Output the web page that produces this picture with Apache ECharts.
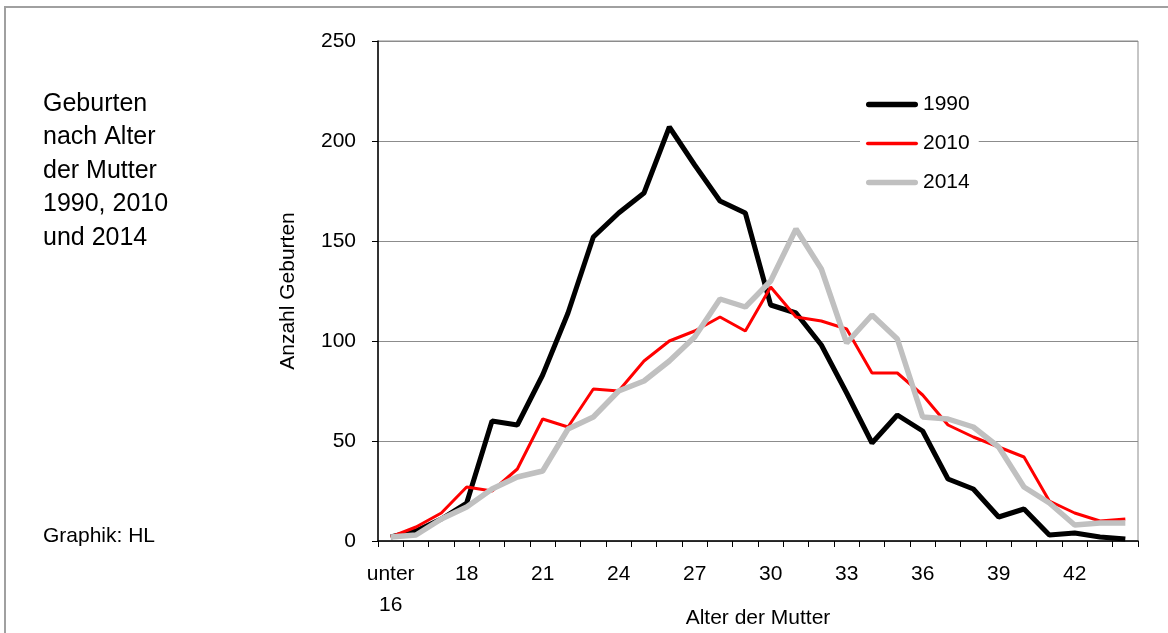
<!DOCTYPE html>
<html>
<head>
<meta charset="utf-8">
<script src="https://cdn.jsdelivr.net/npm/echarts@6/dist/echarts.min.js"></script>
<style>
html,body{margin:0;padding:0;background:#fff;}
#chart{width:1168px;height:633px;}
</style>
</head>
<body>
<div id="chart"></div>
<script>
const categories = ['unter 16','16','17','18','19','20','21','22','23','24','25','26','27','28','29','30','31','32','33','34','35','36','37','38','39','40','41','42','43','44'];
const v1990 = [2, 5, 11, 19, 60, 58, 83, 114, 152, 164, 174, 207, 188, 170, 164, 118, 114, 98, 74, 49, 63, 55, 31, 26, 12, 16, 3, 4, 2, 1];
const v2010 = [2, 7, 14, 27, 25, 36, 61, 57, 76, 75, 90, 100, 105, 112, 105, 127, 112, 110, 106, 84, 84, 73, 58, 52, 47, 42, 20, 14, 10, 11];
const v2014 = [2, 3, 11, 17, 26, 32, 35, 56, 62, 75, 80, 90, 102, 121, 117, 130, 156, 136, 99, 113, 101, 62, 61, 57, 47, 27, 19, 8, 9, 9];
const seriesNames = ['1990', '2010', '2014'];
const titleLines = ['Geburten', 'nach Alter', 'der Mutter', '1990, 2010', 'und 2014'];
const creditText = 'Graphik: HL';
const xName = 'Alter der Mutter';
const yName = 'Anzahl Geburten';

const FONT = '"Liberation Sans", Arial, sans-serif';
const chart = echarts.init(document.getElementById('chart'), null, {renderer: 'canvas'});

function barIcon(h) {
  const r = h / 2;
  return 'path://M' + r + ',0 L' + (52 - r) + ',0 A' + r + ',' + r + ' 0 0 1 ' + (52 - r) + ',' + h +
    ' L' + r + ',' + h + ' A' + r + ',' + r + ' 0 0 1 ' + r + ',0 Z';
}

chart.setOption({
  backgroundColor: '#fff',
  animation: false,
  textStyle: {fontFamily: FONT, color: '#000'},
  grid: {left: 378, top: 41, right: 30, bottom: 92, show: true, borderColor: '#8c8c8c', borderWidth: 1,
    backgroundColor: 'transparent', containLabel: false, outerBoundsMode: 'none'},
  graphic: [
    {type: 'rect', shape: {x: 5, y: 7, width: 1300, height: 800}, style: {fill: 'none', stroke: '#a0a0a0', lineWidth: 2}, z: -1, silent: true},
    {type: 'text', left: 43, top: 87, style: {text: titleLines.join('\n'), font: '25px ' + FONT, fill: '#000', lineHeight: 33.5}},
    {type: 'text', left: 43, top: 526, style: {text: creditText, font: '21px ' + FONT, fill: '#000'}}
  ],
  legend: {
    orient: 'vertical',
    left: 860,
    top: 90,
    padding: [4, 9, 4, 6],
    backgroundColor: '#fff',
    itemWidth: 52,
    itemHeight: 21,
    itemGap: 18,
    symbolKeepAspect: true,
    textStyle: {fontSize: 21, fontFamily: FONT, color: '#000', lineHeight: 21},
    data: [
      {name: seriesNames[0], icon: barIcon(5.5)},
      {name: seriesNames[1], icon: barIcon(3.5)},
      {name: seriesNames[2], icon: barIcon(5.5)}
    ],
    z: 10
  },
  xAxis: {
    type: 'category',
    data: categories,
    boundaryGap: true,
    name: xName,
    nameLocation: 'middle',
    nameGap: 67,
    nameMoveOverlap: false,
    nameTextStyle: {fontSize: 21, fontFamily: FONT, color: '#000'},
    axisLine: {show: true, lineStyle: {color: '#000', width: 1.5}},
    axisTick: {show: true, interval: 0, length: 6, lineStyle: {color: '#000'}},
    axisLabel: {interval: 2, margin: 18, fontSize: 21, lineHeight: 31, color: '#000', fontFamily: FONT,
      formatter: function (v) { return v.replace(' ', '\n'); }},
    splitLine: {show: false}
  },
  yAxis: {
    type: 'value',
    min: 0,
    max: 250,
    interval: 50,
    name: yName,
    nameLocation: 'middle',
    nameGap: 79,
    nameMoveOverlap: false,
    nameTextStyle: {fontSize: 21, fontFamily: FONT, color: '#000'},
    axisLine: {show: true, lineStyle: {color: '#000', width: 1.5}},
    axisTick: {show: true, length: 6, lineStyle: {color: '#000'}},
    axisLabel: {margin: 22, fontSize: 21, color: '#000', fontFamily: FONT},
    splitLine: {show: true, lineStyle: {color: '#8c8c8c', width: 1}}
  },
  series: [
    {name: seriesNames[0], type: 'line', data: v1990, symbol: 'none', color: '#000000', lineStyle: {color: '#000000', width: 5}},
    {name: seriesNames[1], type: 'line', data: v2010, symbol: 'none', color: '#ff0000', lineStyle: {color: '#ff0000', width: 3}},
    {name: seriesNames[2], type: 'line', data: v2014, symbol: 'none', color: '#c0c0c0', lineStyle: {color: '#c0c0c0', width: 5.5}}
  ]
});
</script>
</body>
</html>
